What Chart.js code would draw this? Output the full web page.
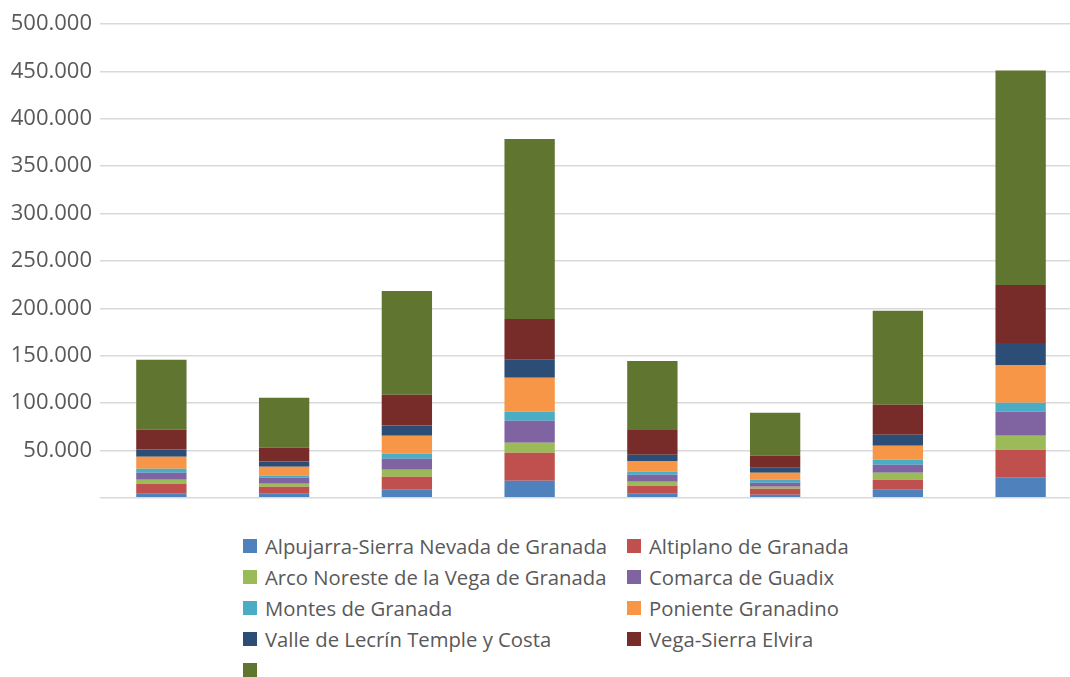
<!DOCTYPE html>
<html>
<head>
<meta charset="utf-8">
<script src="https://cdn.jsdelivr.net/npm/chart.js@4/dist/chart.umd.min.js"></script>
<style>
  html, body { margin: 0; padding: 0; background: #fff; overflow: hidden; }
  body { width: 1070px; height: 677px; position: relative; font-family: "Open Sans", sans-serif; }
  #wrap { position: absolute; left: 0; top: 0; width: 1082px; height: 519px; }
  #legend { position: absolute; left: 243px; top: 530px; width: 800px;
    display: grid; grid-template-columns: 384px 400px; row-gap: 0; }
  .item { display: flex; align-items: center; height: 31px; color: #595959; font-size: 20.3px; white-space: nowrap; }
  .box { width: 14px; height: 14px; margin-right: 8px; flex: none; }
</style>
</head>
<body>
<div id="wrap"><canvas id="chart"></canvas></div>
<div id="legend"></div>
<script>
const categories = ['1', '2', '3', '4', '5', '6', '7', '8'];
const seriesNames = [
  'Alpujarra-Sierra Nevada de Granada', 'Altiplano de Granada',
  'Arco Noreste de la Vega de Granada', 'Comarca de Guadix',
  'Montes de Granada', 'Poniente Granadino',
  'Valle de Lecrín Temple y Costa', 'Vega-Sierra Elvira', ''
];
const colors = ['#4F81BD', '#C0504D', '#9BBB59', '#8064A2', '#4BACC6', '#F79646', '#2C4D75', '#772C2A', '#5F7530'];

const alpujarra = [4200, 4200, 8600, 17900, 4200, 3200, 8400, 21100];
const altiplano = [10600, 7400, 13600, 29600, 8500, 6300, 10600, 29500];
const arcoNoreste = [4200, 3200, 7300, 10500, 4200, 2100, 7400, 14800];
const guadix = [7400, 6300, 11600, 23200, 7400, 4200, 8400, 25300];
const montes = [4200, 2400, 5500, 9500, 3300, 3200, 5300, 9500];
const poniente = [12600, 9200, 18800, 35900, 11300, 7400, 14800, 39900];
const valleLecrin = [7800, 5600, 10800, 19000, 6400, 5300, 11600, 23200];
const vegaElvira = [20700, 14450, 32500, 43200, 26300, 12600, 31600, 61200];
const sinNombre = [73900, 52750, 109600, 189900, 72800, 45400, 99200, 226300];

const yTicks = [0, 50000, 100000, 150000, 200000, 250000, 300000, 350000, 400000, 450000, 500000];

const seriesValues = [alpujarra, altiplano, arcoNoreste, guadix, montes, poniente, valleLecrin, vegaElvira, sinNombre];

const datasets = seriesValues.map((vals, i) => ({
  label: seriesNames[i],
  data: vals,
  backgroundColor: colors[i],
  borderWidth: 0,
  categoryPercentage: 1,
  barPercentage: 0.41
}));

function fmt(v) {
  if (v === 0) return '';
  return String(v).replace(/\B(?=(\d{3})+(?!\d))/g, '.');
}

new Chart(document.getElementById('chart').getContext('2d'), {
  type: 'bar',
  data: { labels: categories, datasets: datasets },
  options: {
    responsive: true,
    maintainAspectRatio: false,
    animation: false,
    layout: { padding: { top: 24, bottom: 4, left: 0, right: 0 } },
    plugins: { legend: { display: false }, tooltip: { enabled: false } },
    scales: {
      x: { stacked: true, display: false },
      y: {
        stacked: true,
        min: 0,
        max: 500000,
        afterBuildTicks: axis => { axis.ticks = yTicks.map(v => ({ value: v })); },
        afterFit: axis => { axis.width = 100; },
        border: { display: false },
        grid: { color: '#d9d9d9', lineWidth: 1.5, drawTicks: false },
        ticks: {
          padding: 8,
          color: '#595959',
          font: { family: 'Open Sans', size: 22 },
          callback: v => fmt(v)
        }
      }
    }
  }
});

const legend = document.getElementById('legend');
seriesNames.forEach((name, i) => {
  const item = document.createElement('div');
  item.className = 'item';
  const box = document.createElement('span');
  box.className = 'box';
  box.style.background = colors[i];
  const txt = document.createElement('span');
  txt.textContent = name;
  item.appendChild(box);
  item.appendChild(txt);
  legend.appendChild(item);
});
</script>
</body>
</html>
